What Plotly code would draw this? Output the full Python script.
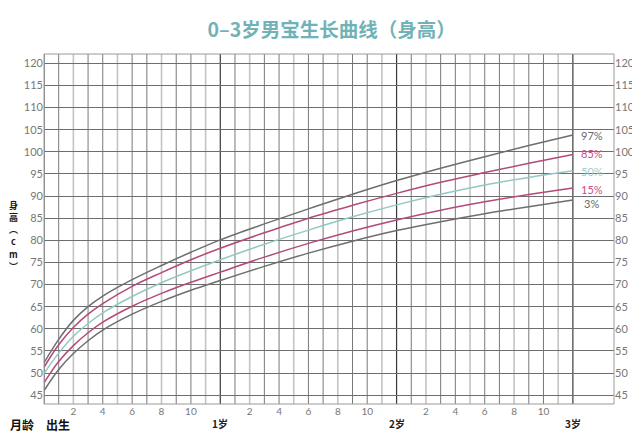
import plotly.graph_objects as go

# ---- data ----
months = [0, 1, 2, 3, 4, 6, 8, 10, 12, 15, 18, 21, 24, 27, 30, 33, 36]
p3  = [46.0, 50.8, 54.4, 57.3, 59.7, 63.3, 66.2, 68.7, 70.9, 74.1, 77.1, 79.8, 82.2, 84.2, 86.0, 87.6, 89.1]
p15 = [47.8, 52.6, 56.2, 59.1, 61.5, 65.1, 68.0, 70.5, 72.8, 76.2, 79.3, 82.1, 84.6, 86.8, 88.7, 90.35, 91.8]
p50 = [49.9, 54.5, 58.3, 61.2, 63.6, 67.3, 70.4, 73.1, 75.6, 79.1, 82.3, 85.3, 88.0, 90.4, 92.5, 94.2, 95.7]
p85 = [51.3, 56.4, 60.3, 63.3, 65.7, 69.6, 72.7, 75.6, 78.2, 81.7, 85.0, 87.9, 90.6, 93.1, 95.3, 97.4, 99.4]
p97 = [52.3, 57.6, 61.9, 65.0, 67.4, 71.1, 74.3, 77.3, 80.1, 83.7, 87.1, 90.4, 93.5, 96.3, 98.9, 101.4, 103.8]
series_names = ["97%", "85%", "50%", "15%", "3%"]
y_ticks = [45, 50, 55, 60, 65, 70, 75, 80, 85, 90, 95, 100, 105, 110, 115, 120]
month_ticks = [2, 4, 6, 8, 10, 14, 16, 18, 20, 22, 26, 28, 30, 32, 34]
month_tick_text = ["2", "4", "6", "8", "10", "2", "4", "6", "8", "10", "2", "4", "6", "8", "10"]
year_pos = [12, 24, 36]
year_text = ["1岁", "2岁", "3岁"]
grid_months = list(range(0, 37))
ylabel_chars = ["身", "高", "︵", "c", "m", "︶"]

GRAY = "#6e6e6e"
PINK = "#b4497a"
TEAL = "#93c8c3"
series = [p97, p85, p50, p15, p3]
line_colors = [GRAY, PINK, TEAL, PINK, GRAY]
label_colors = ["#6a6a6a", "#c4527f", "#9fcfca", "#c4527f", "#6a6a6a"]
label_shift = [-1, 1, -1, -1, -3]

fig = go.Figure()
for name, ys, c in zip(series_names, series, line_colors):
    fig.add_trace(go.Scatter(x=months, y=ys, mode="lines", name=name,
                             line=dict(color=c, width=1.5, shape="spline", smoothing=1.0),
                             showlegend=False, hoverinfo="skip"))
# invisible trace for right axis
fig.add_trace(go.Scatter(x=months, y=p50, yaxis="y2", mode="lines",
                         line=dict(color="rgba(0,0,0,0)"), showlegend=False, hoverinfo="skip"))

shapes = []
for m in grid_months:
    if m % 12 == 0:
        col, w = "#3a3a3a", 1.2
    elif m % 3 == 2:
        col, w = "#c4c4c4", 1.6
    else:
        col, w = "#6a6a6a", 0.9
    shapes.append(dict(type="line", xref="x", yref="paper", x0=m, x1=m, y0=0, y1=1,
                       line=dict(color=col, width=w), layer="below"))
shapes.append(dict(type="rect", xref="paper", yref="paper", x0=0, x1=1, y0=0, y1=1,
                   line=dict(color="#9a9a9a", width=1)))

annotations = []
for name, ys, c, s in zip(series_names, series, label_colors, label_shift):
    annotations.append(dict(x=37.3, y=ys[-1], xref="x", yref="y", text=name, showarrow=False,
                            font=dict(family="Lato, Open Sans, sans-serif", size=11, color=c),
                            xanchor="center", yanchor="middle", yshift=s))
for xp, t in zip(year_pos, year_text):
    annotations.append(dict(x=xp, y=-0.055, xref="x", yref="paper", text="<b>" + t + "</b>",
                            showarrow=False, font=dict(family="Noto Sans CJK SC", size=10, color="#222"),
                            xanchor="center", yanchor="middle"))
annotations.append(dict(x=-0.039, y=-0.058, xref="paper", yref="paper", text="<b>月龄</b>",
                        showarrow=False, font=dict(family="Noto Sans CJK SC", size=12, color="#111"),
                        xanchor="center", yanchor="middle"))
annotations.append(dict(x=0.95, y=-0.058, xref="x", yref="paper", text="<b>出生</b>",
                        showarrow=False, font=dict(family="Noto Sans CJK SC", size=12, color="#111"),
                        xanchor="center", yanchor="middle"))
for i, ch in enumerate(ylabel_chars):
    annotations.append(dict(x=-0.054, y=0.568, xref="paper", yref="paper", text="<b>" + ch + "</b>",
                            showarrow=False, font=dict(family="Noto Sans CJK SC", size=9, color="#1a1a1a"),
                            xanchor="center", yanchor="middle", yshift=-12.2 * i))

# the page adds an 8px body margin, so the figure is 8px smaller and margins 8px tighter
fig.update_layout(
    width=632, height=436,
    margin=dict(l=36, r=26, t=46, b=40, autoexpand=False),
    paper_bgcolor="white", plot_bgcolor="white",
    title=dict(text="<b>0–3岁男宝生长曲线（身高）</b>", x=0.512, xanchor="center",
               y=0.95, yanchor="middle",
               font=dict(family="Noto Sans CJK SC", size=19.5, color="#70b2b7")),
    xaxis=dict(range=[0, 38.8], showgrid=False, zeroline=False, showline=False, automargin=False,
               tickvals=month_ticks, ticktext=month_tick_text, ticks="",
               tickfont=dict(family="Lato, Open Sans, sans-serif", size=10, color="#777")),
    yaxis=dict(range=[43, 122.1], tickvals=y_ticks, showgrid=True, gridcolor="#6e6e6e",
               gridwidth=0.9, zeroline=False, showline=False, ticks="", automargin=False,
               tickfont=dict(family="Lato, Open Sans, sans-serif", size=11, color="#777")),
    yaxis2=dict(range=[43, 122.1], tickvals=y_ticks, overlaying="y", side="right",
                showgrid=False, zeroline=False, showline=False, ticks="", automargin=False,
                tickfont=dict(family="Lato, Open Sans, sans-serif", size=11, color="#777")),
    shapes=shapes, annotations=annotations,
)

fig.write_html("out.html")
